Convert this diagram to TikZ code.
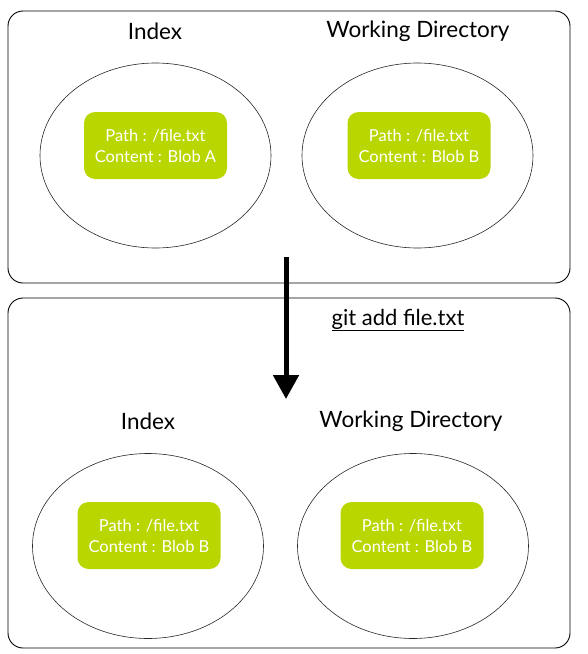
\documentclass[tikz,border=0pt]{standalone}
\usepackage{fontspec}
\setmainfont{Lato}
\usetikzlibrary{arrows.meta, shapes.geometric}
\definecolor{blobgreen}{RGB}{186,214,0}

\tikzset{
    panel/.style={draw=black, line width=0.9pt, rounded corners=15pt},
    area/.style={draw=black!85, line width=0.6pt, ellipse, minimum width=231pt, minimum height=185pt},
    blob/.style={fill=blobgreen, rounded corners=11pt, minimum width=143pt, minimum height=67pt,
        text=white, align=center, font=\fontsize{16.5}{21}\selectfont},
    title/.style={font=\fontsize{22.5}{26}\selectfont}
}

\begin{document}
\begin{tikzpicture}[x=1pt, y=-1pt]
        \useasboundingbox (0,0) rectangle (587,654);

        % the two panels
        \draw[panel] (8,11) rectangle (570,283);
        \draw[panel] (8,298) rectangle (570,648);

        % before
        \node[title] (idxA) at (155,31) {Index};
        \node[title] (wdA) at (418,31) {Working Directory};
        \node[area] (idxAreaA) at (155.5,155.5) {};
        \node[area] (wdAreaA) at (417.5,155.5) {};
        \node[blob] (blobIdxA) at (155.5,145.5) {Path : /file.txt\\Content : Blob A};
        \node[blob] (blobWdA) at (419,145.5) {Path : /file.txt\\Content : Blob B};

        % after
        \node[title] (idxB) at (148,421) {Index};
        \node[title] (wdB) at (411,421) {Working Directory};
        \node[area] (idxAreaB) at (148,546) {};
        \node[area] (wdAreaB) at (413,546) {};
        \node[blob] (blobIdxB) at (149,535.5) {Path : /file.txt\\Content : Blob B};
        \node[blob] (blobWdB) at (412,535.5) {Path : /file.txt\\Content : Blob B};

        % the command
        \coordinate (cmdTop) at (286,257);
        \coordinate (cmdEnd) at (286,399);
        \draw[line width=5pt, -{Triangle[width=25pt, length=24pt]}] (cmdTop) -- (cmdEnd);
        \node[font=\fontsize{22}{26}\selectfont] (cmd) at (398,320) {\underline{git add file.txt}};

    \end{tikzpicture}
\end{document}
